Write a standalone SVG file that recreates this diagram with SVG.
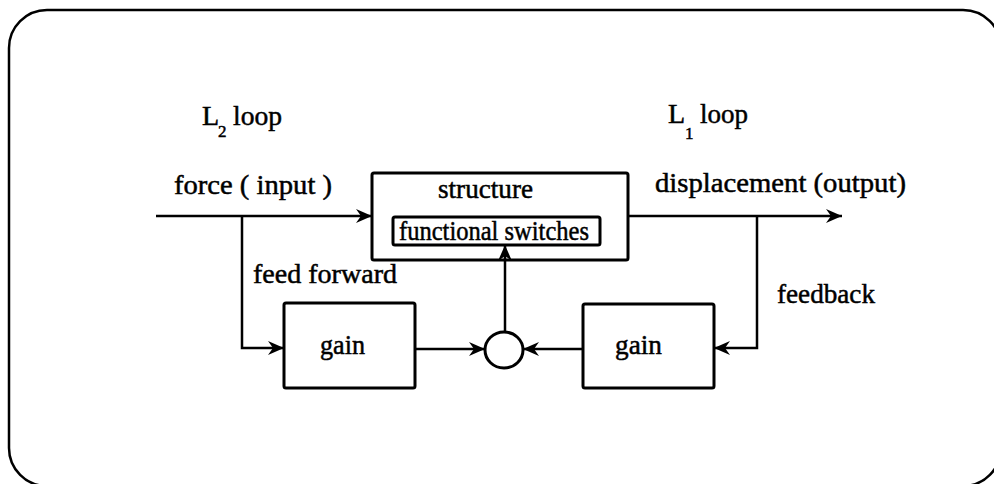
<svg xmlns="http://www.w3.org/2000/svg" width="994" height="484" viewBox="0 0 994 484">
<style>
text{font-family:"Liberation Serif","DejaVu Serif","Times New Roman",serif;font-size:28px;fill:#000;stroke:#000;stroke-width:0.5}
.box{fill:#fff;stroke:#000;stroke-width:3}
.ln{fill:none;stroke:#000;stroke-width:2.5}
.sub{font-size:17px}
</style>
<defs>
<marker id="ah" viewBox="0 0 16 14" refX="16" refY="7" markerWidth="16" markerHeight="14" markerUnits="userSpaceOnUse" orient="auto">
<path d="M0,0 L16,7 L0,14 L5,7 z" fill="#000"/>
</marker>
</defs>
<rect x="9" y="10" width="992" height="476" rx="38" ry="38" fill="#fff" stroke="#000" stroke-width="2.5"/>
<g id="labels">
<text x="202" y="125">L</text><text class="sub" x="218" y="137">2</text><text x="233" y="125" textLength="49" lengthAdjust="spacingAndGlyphs">loop</text>
<text x="668" y="123">L</text><text class="sub" x="685" y="139">1</text><text x="700" y="123" textLength="48" lengthAdjust="spacingAndGlyphs">loop</text>
<text x="174" y="194" textLength="158" lengthAdjust="spacingAndGlyphs">force ( input )</text>
<text x="655" y="192" textLength="251" lengthAdjust="spacingAndGlyphs">displacement (output)</text>
<text x="253" y="283" textLength="144" lengthAdjust="spacingAndGlyphs">feed forward</text>
<text x="777" y="303" textLength="98" lengthAdjust="spacingAndGlyphs">feedback</text>
</g>
<g id="structure">
<rect class="box" x="372" y="173" width="256" height="87" rx="2"/>
<text x="438" y="198" textLength="95" lengthAdjust="spacingAndGlyphs">structure</text>
</g>
<g id="switches">
<rect class="box" x="393" y="217" width="207" height="28" rx="2"/>
<text x="399" y="240" textLength="190" lengthAdjust="spacingAndGlyphs">functional switches</text>
</g>
<g id="gain1">
<rect class="box" x="284" y="303" width="131" height="85" rx="2"/>
<text x="320" y="354" textLength="45" lengthAdjust="spacingAndGlyphs">gain</text>
</g>
<g id="gain2">
<rect class="box" x="583" y="304" width="131" height="84" rx="2"/>
<text x="615" y="354" textLength="47" lengthAdjust="spacingAndGlyphs">gain</text>
</g>
<g id="sum">
<ellipse cx="504" cy="350" rx="19" ry="18" fill="#fff" stroke="#000" stroke-width="3"/>
</g>
<g id="connectors">
<path class="ln" d="M156,216 H372" marker-end="url(#ah)"/>
<path class="ln" d="M628,216 H842" marker-end="url(#ah)"/>
<path class="ln" d="M242,216 V348 H284" marker-end="url(#ah)"/>
<path class="ln" d="M757,216 V348 H714" marker-end="url(#ah)"/>
<path class="ln" d="M415,349 H485" marker-end="url(#ah)" stroke-width="3"/>
<path class="ln" d="M583,349 H523" marker-end="url(#ah)"/>
<path class="ln" d="M505,332 V245" marker-end="url(#ah)"/>
</g>
</svg>
